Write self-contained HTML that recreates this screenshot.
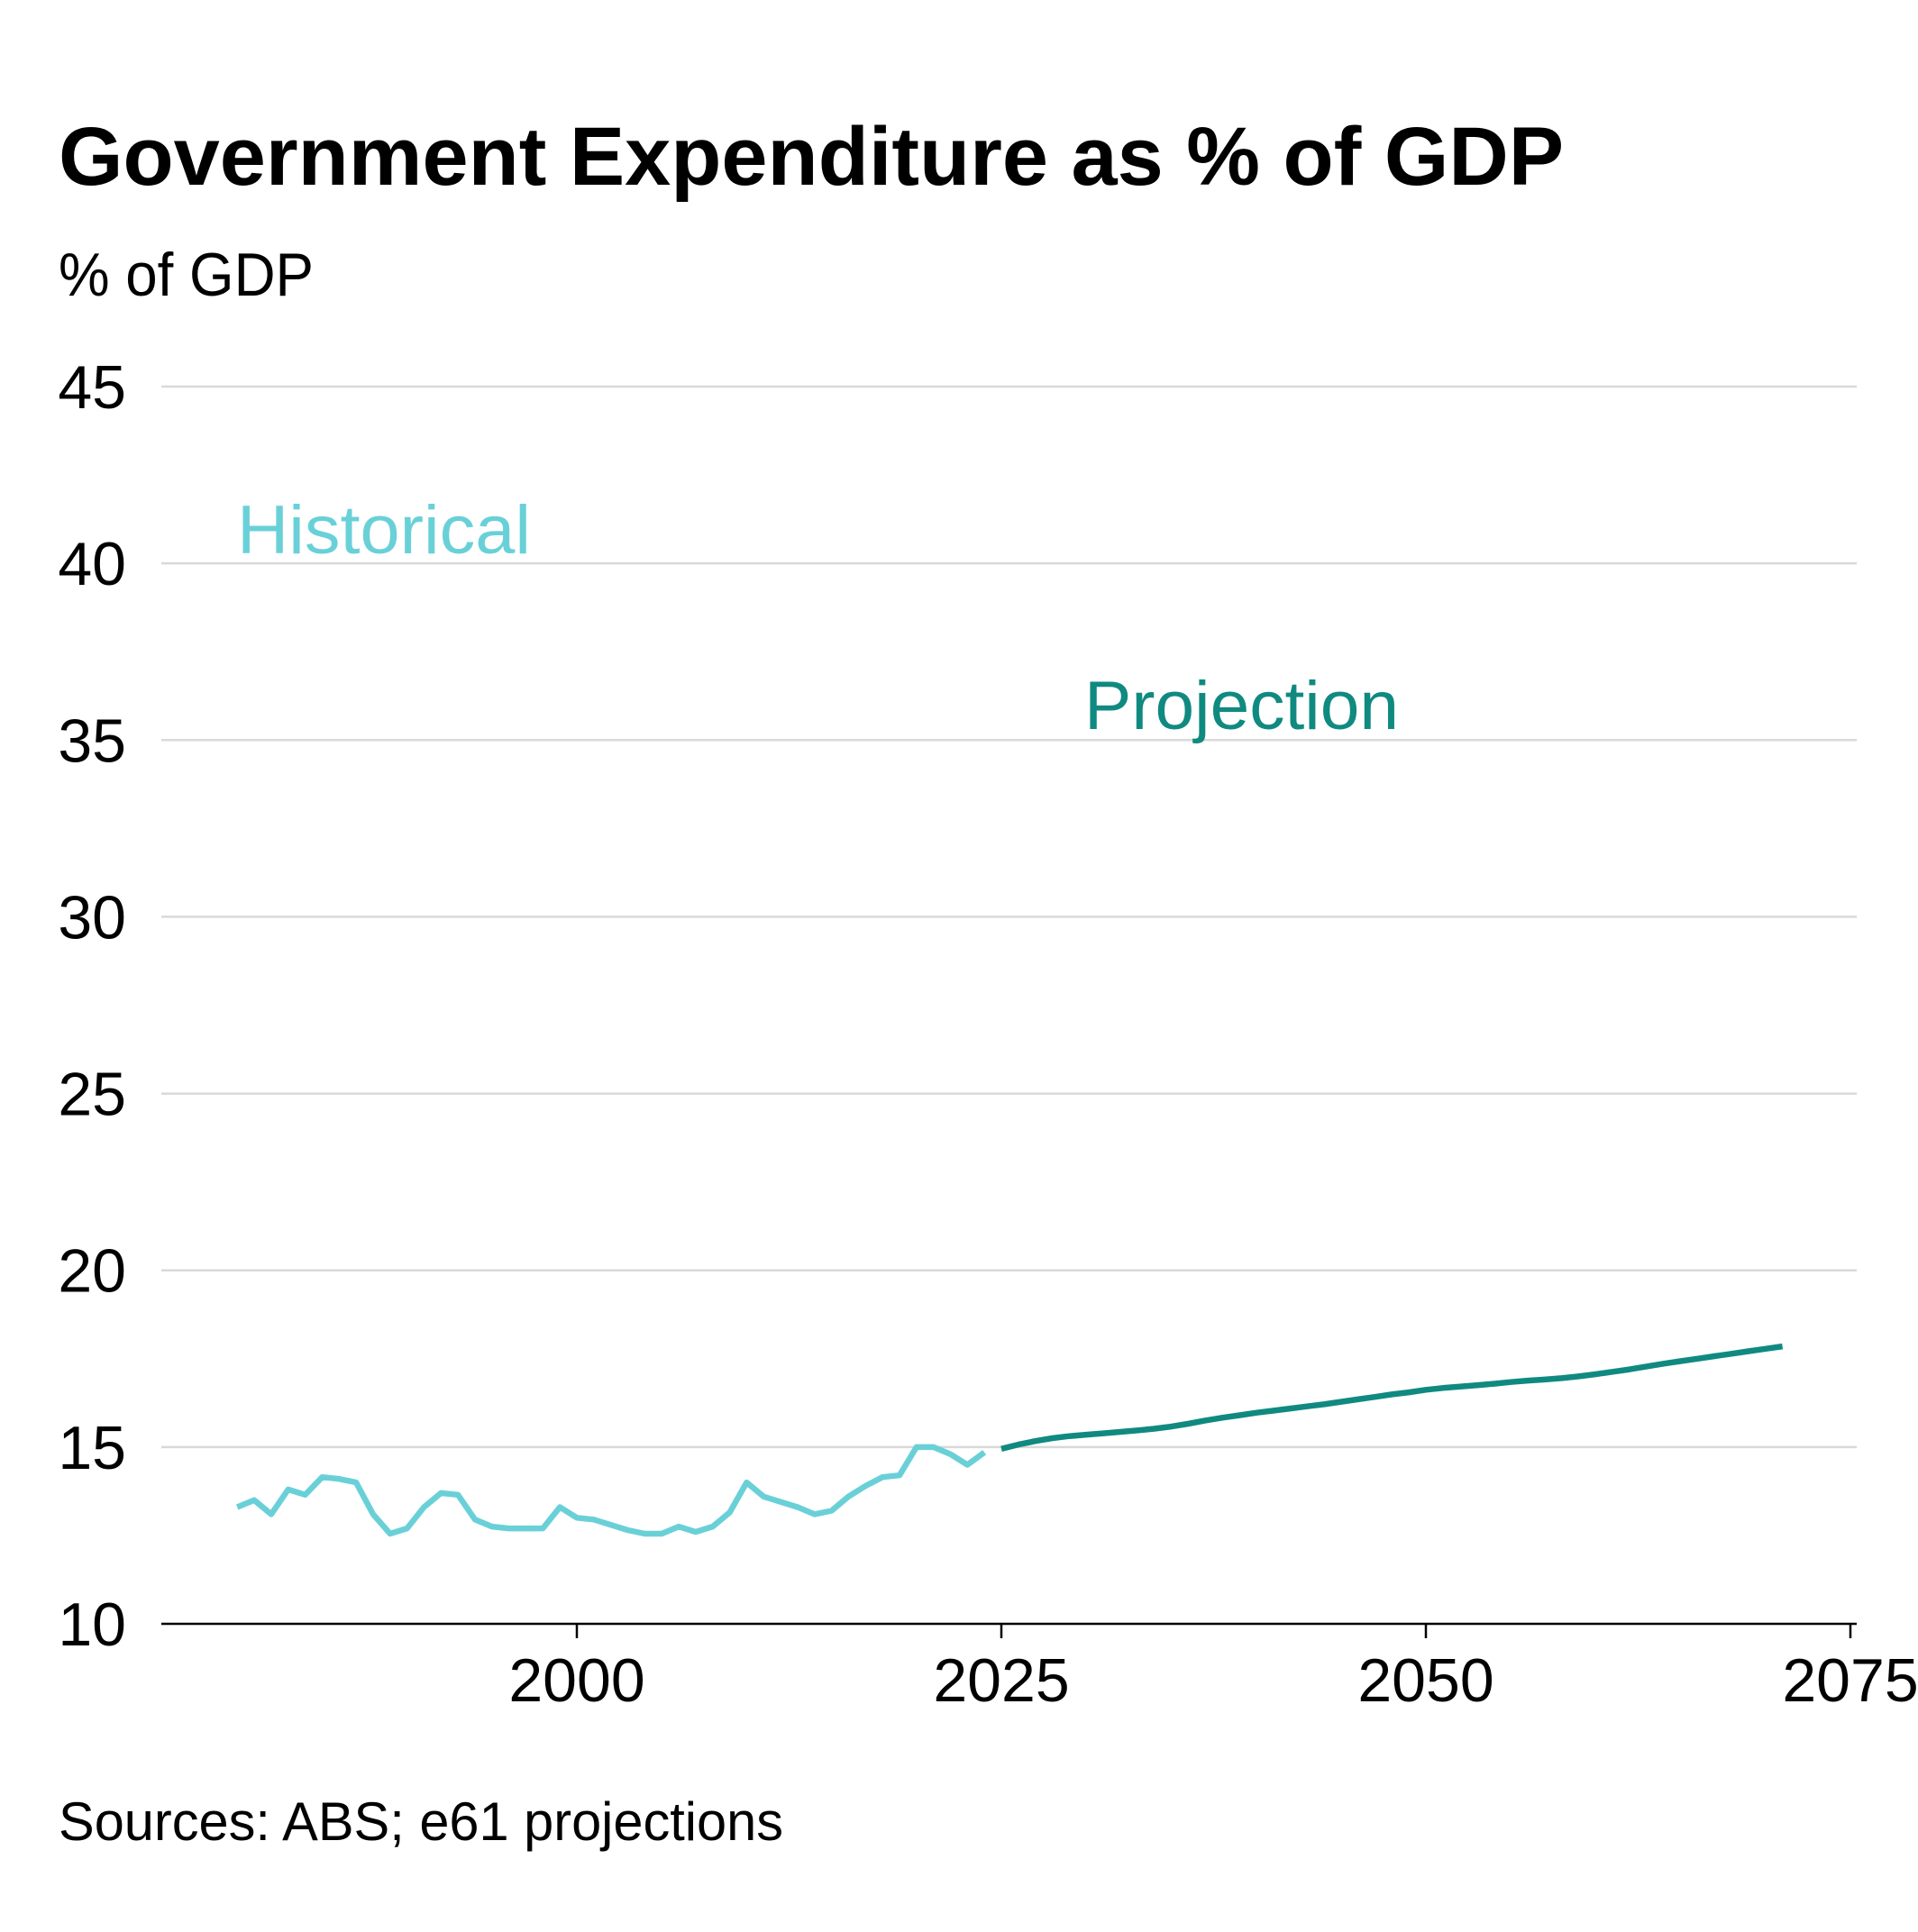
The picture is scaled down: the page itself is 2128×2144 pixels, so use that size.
<!DOCTYPE html>
<html><head><meta charset="utf-8"><style>
html,body{margin:0;padding:0;background:#fff;}
svg{display:block;font-family:"Liberation Sans",sans-serif;}
</style></head><body>
<svg id="chart" width="2128" height="2144" viewBox="0 0 2128 2144" xmlns="http://www.w3.org/2000/svg">
<text x="65" y="205" font-size="92" font-weight="bold" fill="#000" textLength="1670" lengthAdjust="spacingAndGlyphs">Government Expenditure as % of GDP</text>
<text x="65" y="328" font-size="68" fill="#000" textLength="283" lengthAdjust="spacingAndGlyphs">% of GDP</text>
<g id="grid"></g>
<g id="axes"></g>
<g id="series"></g>
<text x="263" y="614" font-size="76" fill="#6AD0D8" textLength="326" lengthAdjust="spacingAndGlyphs">Historical</text>
<text x="1203" y="809" font-size="76" fill="#108A80" textLength="349" lengthAdjust="spacingAndGlyphs">Projection</text>
<text x="65" y="2042" font-size="60" fill="#000" textLength="804" lengthAdjust="spacingAndGlyphs">Sources: ABS; e61 projections</text>
</svg>
<script>
const yTicks = [10,15,20,25,30,35,40,45];
const xTicks = [2000,2025,2050,2075];
const histYears = [1980,1981,1982,1983,1984,1985,1986,1987,1988,1989,1990,1991,1992,1993,1994,1995,1996,1997,1998,1999,2000,2001,2002,2003,2004,2005,2006,2007,2008,2009,2010,2011,2012,2013,2014,2015,2016,2017,2018,2019,2020,2021,2022,2023,2024];
const histValues = [13.3,13.5,13.1,13.8,13.65,14.15,14.1,14.0,13.1,12.55,12.7,13.3,13.7,13.65,12.95,12.75,12.7,12.7,12.7,13.3,13.0,12.95,12.8,12.65,12.55,12.55,12.75,12.6,12.75,13.15,14.0,13.6,13.45,13.3,13.1,13.2,13.6,13.9,14.15,14.2,15.0,15.0,14.8,14.5,14.85];
const projYears = [2025,2026,2027,2028,2029,2030,2031,2032,2033,2034,2035,2036,2037,2038,2039,2040,2041,2042,2043,2044,2045,2046,2047,2048,2049,2050,2051,2052,2053,2054,2055,2056,2057,2058,2059,2060,2061,2062,2063,2064,2065,2066,2067,2068,2069,2070,2071];
const projValues = [14.95,15.07,15.17,15.25,15.31,15.35,15.39,15.43,15.47,15.52,15.58,15.66,15.75,15.83,15.9,15.97,16.03,16.09,16.15,16.21,16.28,16.35,16.42,16.49,16.55,16.62,16.67,16.71,16.75,16.79,16.84,16.88,16.91,16.95,17.0,17.06,17.13,17.2,17.28,17.36,17.43,17.5,17.57,17.64,17.71,17.78,17.85];

const NS = "http://www.w3.org/2000/svg";
const X0 = 179, X1 = 2060;
const xs = y => 640 + (y - 2000) * (1111 - 640) / 25;
const ys = v => 1802 - (v - 10) * (1802 - 429) / 35;
function mk(tag, attrs, parent){const e=document.createElementNS(NS,tag);for(const k in attrs)e.setAttribute(k,attrs[k]);parent.appendChild(e);return e;}
const grid=document.getElementById('grid'), axes=document.getElementById('axes'), series=document.getElementById('series');

yTicks.forEach(t=>{
  if(t!==10){
    const l=mk('line',{x1:X0,x2:X1,y1:ys(t),y2:ys(t),stroke:'#d9d9d9','stroke-width':2.5},grid);
    
    
  }
  const tx=mk('text',{x:140,y:ys(t)+24,'text-anchor':'end','font-size':68,fill:'#000'},axes);
  tx.textContent=t;
  
  
});
const ax=mk('line',{x1:X0,x2:X1,y1:ys(10),y2:ys(10),stroke:'#000','stroke-width':2.5},axes);


xTicks.forEach(t=>{
  const tk=mk('line',{x1:xs(t),x2:xs(t),y1:ys(10),y2:ys(10)+16,stroke:'#000','stroke-width':2.5},axes);
  
  
  const tx=mk('text',{x:xs(t),y:1888,'text-anchor':'middle','font-size':68,fill:'#000'},axes);
  tx.textContent=t;
  
  
});
function path(years, vals){return years.map((y,i)=>(i?'L':'M')+xs(y).toFixed(1)+' '+ys(vals[i]).toFixed(1)).join(' ');}
const h=mk('path',{d:path(histYears,histValues),fill:'none',stroke:'#6AD0D8','stroke-width':6.5,'stroke-linejoin':'round'},series);


const p=mk('path',{d:path(projYears,projValues),fill:'none',stroke:'#108A80','stroke-width':6.5,'stroke-linejoin':'round'},series);


</script>
</body></html>
